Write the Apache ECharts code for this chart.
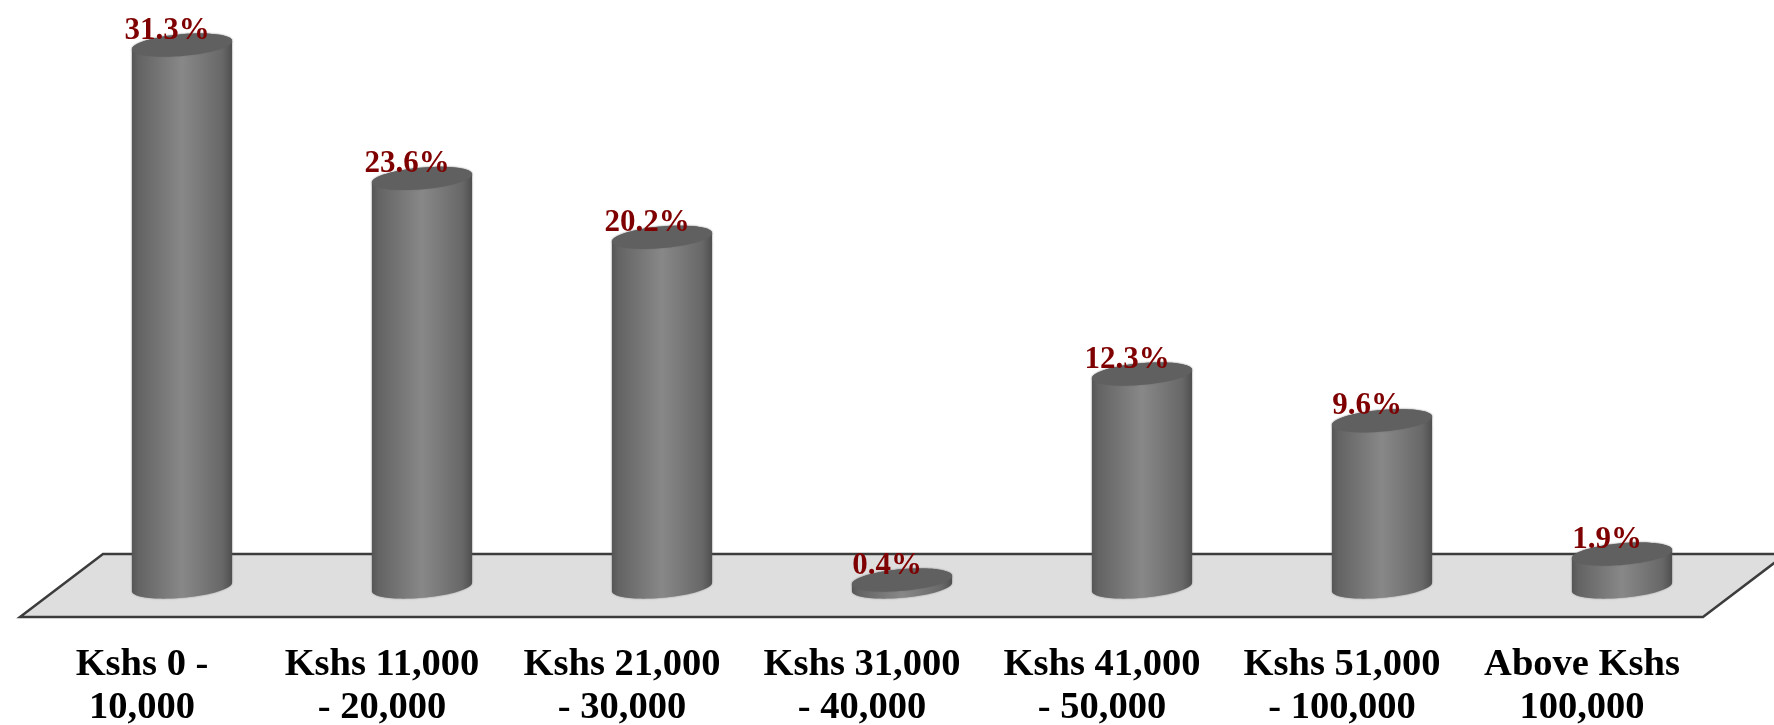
<!DOCTYPE html>
<html><head><meta charset="utf-8">
<style>html,body{margin:0;padding:0;background:#fff}#c{width:1774px;height:725px}</style>
<script src="https://cdn.jsdelivr.net/npm/echarts@6/dist/echarts.min.js"></script>
</head><body><div id="c"></div>
<script>
const categories = ["Kshs 0 -\n10,000","Kshs 11,000\n- 20,000","Kshs 21,000\n- 30,000","Kshs 31,000\n- 40,000","Kshs 41,000\n- 50,000","Kshs 51,000\n- 100,000","Above Kshs\n100,000"];
const shares = [31.3,23.6,20.2,0.4,12.3,9.6,1.9];
const serif = '"Liberation Serif", serif';
const tilt = -5 * Math.PI / 180;

function ellipsePoint(cx, cy, a, b, t) {
  const x = a * Math.cos(t), y = b * Math.sin(t);
  return [cx + x * Math.cos(tilt) - y * Math.sin(tilt), cy + x * Math.sin(tilt) + y * Math.cos(tilt)];
}
function arc(cx, cy, a, b, from, to, n) {
  const pts = [];
  for (let i = 0; i <= n; i++) pts.push(ellipsePoint(cx, cy, a, b, from + (to - from) * i / n));
  return pts;
}
function renderItem(params, api) {
  const value = api.value(1);
  const base = api.coord([api.value(0), 0]);
  const top = api.coord([api.value(0), value]);
  const a = api.size([1, 0])[0] * 0.2095, b = a * 0.215;
  const cx = base[0];
  const body = arc(cx, base[1], a, b, Math.PI, 0, 48).concat(arc(cx, top[1], a, b, 0, -Math.PI, 48));
  return {
    type: 'group',
    children: [
      { type: 'polygon', shape: { points: body }, style: {
          fill: new echarts.graphic.LinearGradient(0, 0, 1, 0, [
            { offset: 0, color: '#555' }, { offset: 0.06, color: '#636363' },
            { offset: 0.5, color: '#888' }, { offset: 0.9, color: '#686868' }, { offset: 1, color: '#4f4f4f' }
          ]), shadowBlur: 2, shadowColor: 'rgba(90,90,90,0.6)' } },
      { type: 'polygon', shape: { points: arc(cx, top[1], a, b, 0, Math.PI * 2, 96) },
        style: { fill: '#606060', shadowBlur: 2, shadowColor: 'rgba(90,90,90,0.5)' } },
      { type: 'text', z2: 10, style: {
          text: value.toFixed(1) + '%', x: cx - 15, y: top[1] + 1,
          align: 'center', verticalAlign: 'bottom',
          fill: '#7f0000', font: 'bold 31px ' + serif } }
    ]
  };
}
const chart = echarts.init(document.getElementById('c'));
chart.setOption({
  animation: false,
  backgroundColor: '#fff',
  grid: { left: 62, right: 32, top: 33, bottom: 138, outerBoundsMode: 'none' },
  xAxis: { type: 'category', data: categories,
    axisLine: { show: false }, axisTick: { show: false },
    axisLabel: { interval: 0, margin: 57, color: '#000', fontFamily: serif, fontWeight: 'bold',
      fontSize: 38.5, lineHeight: 43, padding: [0, 80, 0, 0], align: 'center' } },
  yAxis: { type: 'value', min: 0, max: 32, show: false, splitLine: { show: false } },
  graphic: [{ type: 'polygon', z: 0, silent: true,
    shape: { points: [[20, 617], [103, 554], [1786, 554], [1703, 617]] },
    style: { fill: '#dedede', stroke: '#3c3c3c', lineWidth: 2.5, lineJoin: 'miter' } }],
  series: [{ type: 'custom', renderItem, clip: false, data: shares.map((v, i) => [i, v]), encode: { x: 0, y: 1 } }]
});
</script></body></html>
